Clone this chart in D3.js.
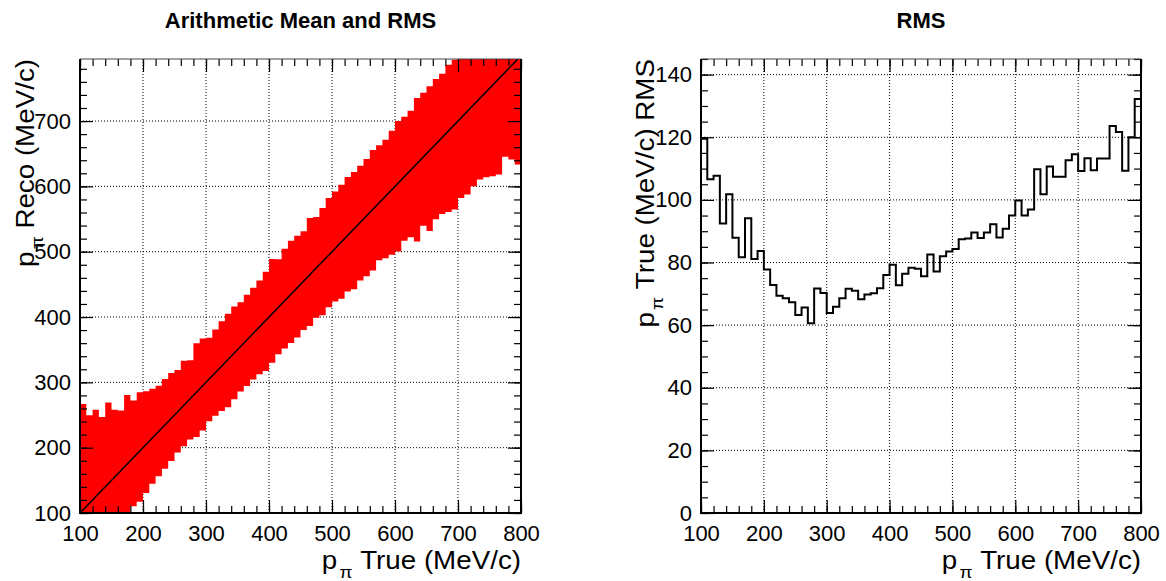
<!DOCTYPE html>
<html>
<head>
<meta charset="utf-8">
<script src="https://cdn.jsdelivr.net/npm/d3@7"></script>
<style>
body { margin: 0; background: #fff; }
text { font-family: "Liberation Sans", Arial, Helvetica, sans-serif; fill: #000; }
</style>
</head>
<body>
<div id="chart"></div>
<script>
// bins of p_pi True, 10 MeV/c wide, 100..800
var binLow = d3.range(100, 800, 10);
var binWidth = 10;

// mean of p_pi Reco per bin (MeV/c)
var meanReco = [147.5,142.9,150.5,154.5,167.2,170.3,175.4,186.5,191.3,201.0,
  208.4,217.5,225.5,236.5,247.0,255.7,267.6,273.1,288.0,296.7,
  304.5,314.9,324.8,333.4,345.0,354.4,364.4,374.7,384.3,393.4,
  409.5,415.6,428.2,438.5,446.5,455.7,468.9,476.0,484.8,498.6,
  508.0,515.2,526.6,532.3,543.8,552.2,563.4,574.8,580.6,590.2,
  600.2,611.6,618.9,625.4,641.6,642.4,656.9,665.0,673.5,679.1,
  691.6,700.7,709.7,723.6,727.2,739.1,739.8,754.5,761.0,765.6];

// RMS of p_pi Reco per bin (MeV/c)
var rmsReco = [119.5,106.6,107.7,92.5,101.8,87.9,81.7,94.1,81.1,83.7,
  77.8,72.8,69.4,68.6,67.3,63.2,65.6,60.6,71.7,70.3,
  63.9,65.9,68.6,71.6,71.0,68.3,69.8,70.2,71.8,76.0,
  79.3,72.7,76.4,78.3,78.0,75.6,82.6,77.1,82.0,83.5,
  84.3,87.4,87.7,89.6,87.8,89.6,92.2,88.0,90.8,95.0,
  99.8,95.0,96.9,109.8,101.8,110.7,107.4,107.4,112.7,114.6,
  109.2,113.3,109.5,113.2,113.2,123.6,121.7,109.3,120.0,132.2];

var xTickVals = [100,200,300,400,500,600,700,800];
var yTickValsMean = [100,200,300,400,500,600,700];
var yTickValsRms = [0,20,40,60,80,100,120,140];

var width = 1166, height = 581;

var svg = d3.select("#chart").append("svg")
    .attr("width", width)
    .attr("height", height);

svg.append("rect").attr("width", width).attr("height", height).attr("fill", "white");

// frames
var xL = d3.scaleLinear().domain([100, 800]).range([80, 521]);
var yL = d3.scaleLinear().domain([100, 795]).range([513, 59]);
var xR = d3.scaleLinear().domain([100, 800]).range([701, 1141]);
var yR = d3.scaleLinear().domain([0, 145]).range([513, 59]);

function addClip(id, x, y) {
    svg.append("clipPath").attr("id", id)
        .append("rect")
        .attr("x", x.range()[0]).attr("y", y.range()[1])
        .attr("width", x.range()[1] - x.range()[0])
        .attr("height", y.range()[0] - y.range()[1]);
}
addClip("clipL", xL, yL);
addClip("clipR", xR, yR);

function drawGrid(x, y, xt, yt) {
    var g = svg.append("g")
        .attr("stroke", "#000")
        .attr("stroke-width", 1)
        .attr("stroke-dasharray", "1,2");
    g.selectAll("line.gx").data(xt).enter().append("line")
        .attr("x1", function(d){ return x(d); }).attr("x2", function(d){ return x(d); })
        .attr("y1", y.range()[0]).attr("y2", y.range()[1]);
    g.selectAll("line.gy").data(yt).enter().append("line")
        .attr("y1", function(d){ return y(d); }).attr("y2", function(d){ return y(d); })
        .attr("x1", x.range()[0]).attr("x2", x.range()[1]);
}

function noDomain(g) { g.select(".domain").remove(); }

function drawAxes(x, y, xt, xMinor, yt, yMinor) {
    var l = x.range()[0], r = x.range()[1], b = y.range()[0], t = y.range()[1];
    var g = svg.append("g");
    // minor ticks on all four sides
    g.append("g").attr("transform", "translate(0," + b + ")")
        .call(d3.axisBottom(x).tickValues(xMinor).tickSize(-7).tickFormat("")).call(noDomain);
    g.append("g").attr("transform", "translate(0," + t + ")")
        .call(d3.axisTop(x).tickValues(xMinor).tickSize(-7).tickFormat("")).call(noDomain);
    g.append("g").attr("transform", "translate(" + l + ",0)")
        .call(d3.axisLeft(y).tickValues(yMinor).tickSize(-7).tickFormat("")).call(noDomain);
    g.append("g").attr("transform", "translate(" + r + ",0)")
        .call(d3.axisRight(y).tickValues(yMinor).tickSize(-7).tickFormat("")).call(noDomain);
    // major ticks
    g.append("g").attr("transform", "translate(0," + b + ")")
        .call(d3.axisBottom(x).tickValues(xt).tickSize(-13).tickPadding(12).tickFormat(d3.format("d"))).call(noDomain);
    g.append("g").attr("transform", "translate(0," + t + ")")
        .call(d3.axisTop(x).tickValues(xt).tickSize(-13).tickFormat("")).call(noDomain);
    g.append("g").attr("transform", "translate(" + l + ",0)")
        .call(d3.axisLeft(y).tickValues(yt).tickSize(-13).tickPadding(9).tickFormat(d3.format("d"))).call(noDomain);
    g.append("g").attr("transform", "translate(" + r + ",0)")
        .call(d3.axisRight(y).tickValues(yt).tickSize(-13).tickFormat("")).call(noDomain);

    g.selectAll(".tick line").attr("stroke", "#000").attr("stroke-width", 1.2);
    g.selectAll("g").attr("font-size", null).attr("font-family", null);
    g.selectAll(".tick text").attr("font-size", 22).attr("fill", "#000");

    // frame
    g.append("line").attr("x1", l).attr("x2", r).attr("y1", t).attr("y2", t)
        .attr("stroke", "#444").attr("stroke-width", 1);
    g.append("path")
        .attr("d", "M" + l + "," + t + "V" + b + "H" + r + "V" + t)
        .attr("fill", "none").attr("stroke", "#000").attr("stroke-width", 2);
}

// ---------- left: mean +- RMS ----------
drawGrid(xL, yL, xTickVals, yTickValsMean);

var band = binLow.map(function(d, i){ return {x: d, m: meanReco[i], s: rmsReco[i]}; });
band.push({x: 800, m: meanReco[69], s: rmsReco[69]});

svg.append("path")
    .datum(band)
    .attr("clip-path", "url(#clipL)")
    .attr("fill", "#ff0000")
    .attr("d", d3.area()
        .curve(d3.curveStepAfter)
        .x(function(d){ return xL(d.x); })
        .y0(function(d){ return yL(d.m - d.s); })
        .y1(function(d){ return yL(d.m + d.s); }));

svg.append("line")
    .attr("clip-path", "url(#clipL)")
    .attr("x1", xL(100)).attr("y1", yL(100))
    .attr("x2", xL(800)).attr("y2", yL(800))
    .attr("stroke", "#000").attr("stroke-width", 1.5);

drawAxes(xL, yL, xTickVals, d3.range(100, 801, 20), yTickValsMean, d3.range(100, 795, 20));

// ---------- right: RMS histogram ----------
drawGrid(xR, yR, xTickVals, yTickValsRms);

var pts = [[100, 0]];
binLow.forEach(function(d, i){ pts.push([d, rmsReco[i]]); });
pts.push([800, rmsReco[69]]);
pts.push([800, 0]);

svg.append("path")
    .datum(pts)
    .attr("clip-path", "url(#clipR)")
    .attr("fill", "none")
    .attr("stroke", "#000")
    .attr("stroke-width", 2)
    .attr("d", d3.line()
        .curve(d3.curveStepAfter)
        .x(function(d){ return xR(d[0]); })
        .y(function(d){ return yR(d[1]); }));

drawAxes(xR, yR, xTickVals, d3.range(100, 801, 20), yTickValsRms, d3.range(0, 146, 5));

// ---------- titles ----------
svg.append("text")
    .attr("x", (xL.range()[0] + xL.range()[1]) / 2).attr("y", 28)
    .attr("text-anchor", "middle").attr("font-weight", "bold").attr("font-size", 22)
    .text("Arithmetic Mean and RMS");
svg.append("text")
    .attr("x", (xR.range()[0] + xR.range()[1]) / 2).attr("y", 28)
    .attr("text-anchor", "middle").attr("font-weight", "bold").attr("font-size", 22)
    .text("RMS");

// axis titles: p_pi with subscript, right/top aligned like ROOT
function axisTitle(transform, rest) {
    var t = svg.append("g").attr("transform", transform + " scale(1.11,1)")
        .append("text").attr("text-anchor", "end").attr("font-size", 25);
    t.append("tspan").text("p");
    t.append("tspan").attr("font-size", 17).attr("dx", 2).attr("dy", 9).text("\u03c0");
    t.append("tspan").attr("dy", -9).text(" " + rest);
}
axisTitle("translate(521,568.5)", "True (MeV/c)");
axisTitle("translate(1141,568.5)", "True (MeV/c)");
axisTitle("translate(34,59) rotate(-90)", "Reco (MeV/c)");
axisTitle("translate(654,59) rotate(-90)", "True (MeV/c) RMS");
</script>
</body>
</html>
